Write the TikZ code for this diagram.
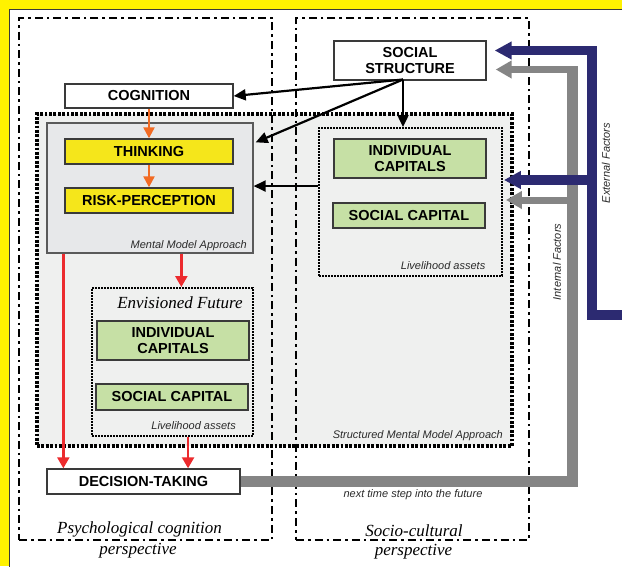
\documentclass[tikz,border=0pt]{standalone}
\usepackage{fontspec}
\setmainfont{Liberation Sans}
\newfontfamily\timesfont{Liberation Serif}
\usetikzlibrary{arrows.meta,calc}

\definecolor{bgyellow}{HTML}{FFF200}
\definecolor{boxyellow}{HTML}{F5E61B}
\definecolor{boxgreen}{HTML}{C6E0A5}
\definecolor{smmfill}{HTML}{EFF0EF}
\definecolor{mmfill}{HTML}{E7E8EA}
\definecolor{edgegray}{HTML}{3A3A3A}
\definecolor{mmedge}{HTML}{5A5A5A}
\definecolor{notetext}{HTML}{2A2A2A}
\definecolor{arrorange}{HTML}{F26B24}
\definecolor{arrred}{HTML}{EC2B2E}
\definecolor{bandgray}{HTML}{858585}
\definecolor{bandnavy}{HTML}{2C2A71}

\newcommand{\boxlabelfont}{\fontsize{14.5}{16.3}\selectfont\bfseries}
\newcommand{\notelabelfont}{\fontsize{11}{13}\selectfont\itshape}
\newcommand{\perspfont}{\timesfont\itshape\fontsize{17}{19}\selectfont}

\begin{document}
\begin{tikzpicture}[x=1pt,y=-1pt,
  frame/.style={draw=black, line width=2.8pt,
    dash pattern=on 8pt off 4pt on 2.6pt off 4pt, inner sep=0},
  smmbox/.style={fill=smmfill, inner sep=0},
  smmedge/.style={draw=black, line width=3.3pt, dash pattern=on 2.8pt off 1.6pt, inner sep=0},
  mmbox/.style={fill=mmfill, draw=mmedge, line width=1.3pt, inner sep=0},
  assetbox/.style={draw=black, line width=1.9pt, dash pattern=on 1.7pt off 1.3pt, inner sep=0},
  lbox/.style={draw=edgegray, line width=1.4pt, inner sep=0, align=center,
    font=\boxlabelfont, text=black},
  whitebox/.style={lbox, fill=white},
  yellowbox/.style={lbox, fill=boxyellow},
  greenbox/.style={lbox, fill=boxgreen},
  note/.style={font=\notelabelfont, text=notetext, inner sep=0},
  persp/.style={font=\perspfont, text=black, inner sep=0},
  blk/.style={draw=black, line width=2.2pt, -{Triangle[length=12pt,width=11pt]}},
  org/.style={draw=arrorange, line width=2.3pt, -{Triangle[length=11pt,width=11pt]}},
  redarr/.style={draw=arrred, line width=2.3pt, -{Triangle[length=11pt,width=12pt]}},
  grayarrow/.style={draw=bandgray, line width=7pt, -{Triangle[length=16pt,width=17pt]}},
  navyarrow/.style={draw=bandnavy, -{Triangle[length=17pt,width=17pt]}}
]
\useasboundingbox (0,0) rectangle (622,566);

% page background and panel
\fill[bgyellow] (0,0) rectangle (622,566);
\draw[fill=white, draw=edgegray, line width=1pt] (9,9) rectangle (640,590);

% structured mental model area (fill first, frames over it)
\node[smmbox, minimum width=475pt, minimum height=332pt] (smmfill) at (274.5,280) {};

% perspective frames
\node[frame, minimum width=253pt, minimum height=522pt] (psy) at (145.5,279) {};
\node[frame, minimum width=233pt, minimum height=522pt] (soc) at (412.5,279) {};

\node[smmedge, minimum width=475pt, minimum height=332pt] (smm) at (274.5,280) {};

% inner containers
\node[mmbox, minimum width=206pt, minimum height=130pt] (mm) at (150,188) {};
\node[assetbox, minimum width=183pt, minimum height=148pt] (lh) at (410.5,202) {};
\node[assetbox, minimum width=161pt, minimum height=148pt] (ef) at (172.5,362) {};

% labelled boxes
\node[whitebox, minimum width=168pt, minimum height=24pt] (cog) at (149,96) {COGNITION};
\node[yellowbox, minimum width=168pt, minimum height=25pt] (think) at (149,151.5) {THINKING};
\node[yellowbox, minimum width=168pt, minimum height=25pt] (risk) at (149,200.5) {RISK-PERCEPTION};
\node[whitebox, minimum width=152pt, minimum height=39pt] (ss) at (410,60.5) {SOCIAL\\STRUCTURE};
\node[greenbox, minimum width=152pt, minimum height=39pt] (icR) at (410,158.5) {INDIVIDUAL\\CAPITALS};
\node[greenbox, minimum width=152pt, minimum height=25pt] (scR) at (409,215.5) {SOCIAL CAPITAL};
\node[greenbox, minimum width=152pt, minimum height=39pt] (icL) at (173,340.5) {INDIVIDUAL\\CAPITALS};
\node[greenbox, minimum width=152pt, minimum height=26pt] (scL) at (172,397) {SOCIAL CAPITAL};
\node[whitebox, minimum width=193pt, minimum height=25pt] (dec) at (143.5,481.5) {DECISION-TAKING};

% captions
\node[note, anchor=east] (mmcap) at (247,245.5) {Mental Model Approach};
\node[note, anchor=east] (lhcap) at (485.5,266) {Livelihood assets};
\node[note, anchor=east] (efcap) at (236,426) {Livelihood assets};
\node[note, anchor=east] (smmcap) at (503,436) {Structured Mental Model Approach};
\node[persp] (eftitle) at (180,302.5) {Envisioned Future};
\node[persp] (psy1) at (139.5,529) {Psychological cognition};
\node[persp] (psy2) at (138,551) {perspective};
\node[persp] (soc1) at (414,530.5) {Socio-cultural};
\node[persp] (soc2) at (413.5,552) {perspective};
\node[note] (nextstep) at (413,494.5) {next time step into the future};
\node[note, rotate=90] (extlab) at (606,163) {External Factors};
\node[note, rotate=90] (intlab) at (557,262) {Internal Factors};

% social structure influences
\coordinate (ssfoot) at (403,79.5);
\draw[blk] (ssfoot) -- (cog.east);
\draw[blk] (ssfoot) -- ($(mm.north east)+(2,20)$);
\draw[blk] (ssfoot) -- (ssfoot |- lh.north);
\coordinate (lhport) at ($(lh.north west)+(0,59)$);
\draw[blk] (lhport) -- (lhport -| mm.east);

% cognition chain
\draw[org] (cog.south) -- (think.north);
\draw[org] (think.south) -- (risk.north);

% towards the decision
\coordinate (mmL) at ($(mm.south west)+(17,0)$);
\draw[redarr] (mmL) -- (mmL |- dec.north);
\coordinate (mmR) at ($(mm.south west)+(135,0)$);
\draw[redarr] (mmR) -- (mmR |- ef.north);
\coordinate (efB) at ($(ef.south west)+(97,0)$);
\draw[redarr] (efB) -- (efB |- dec.north);

% internal factors: feedback of the decision
\coordinate (gcorner) at (572,481.5);
\coordinate (gtop) at (572,66);
\draw[draw=bandgray, line width=11pt] (dec.east) -- (gcorner) -- (gtop);
\coordinate (gb1) at (577.5,69.5);
\draw[grayarrow, shorten >=9pt] (gb1) -- (gb1 -| ss.east);
\coordinate (gb2) at (577.5,200);
\draw[grayarrow, shorten >=3pt] (gb2) -- (gb2 -| lh.east);

% external factors
\coordinate (nstart) at (630,314.5);
\coordinate (ncorner) at (591.5,314.5);
\coordinate (ntop) at (591.5,46);
\draw[draw=bandnavy, line width=10pt] (nstart) -- (ncorner) -- (ntop);
\coordinate (nb1) at (596.5,50.5);
\draw[navyarrow, line width=9pt, shorten >=8pt] (nb1) -- (nb1 -| ss.east);
\coordinate (nb2) at (596.5,180);
\draw[navyarrow, line width=10pt, shorten >=1pt] (nb2) -- (nb2 -| lh.east);
\end{tikzpicture}
\end{document}
